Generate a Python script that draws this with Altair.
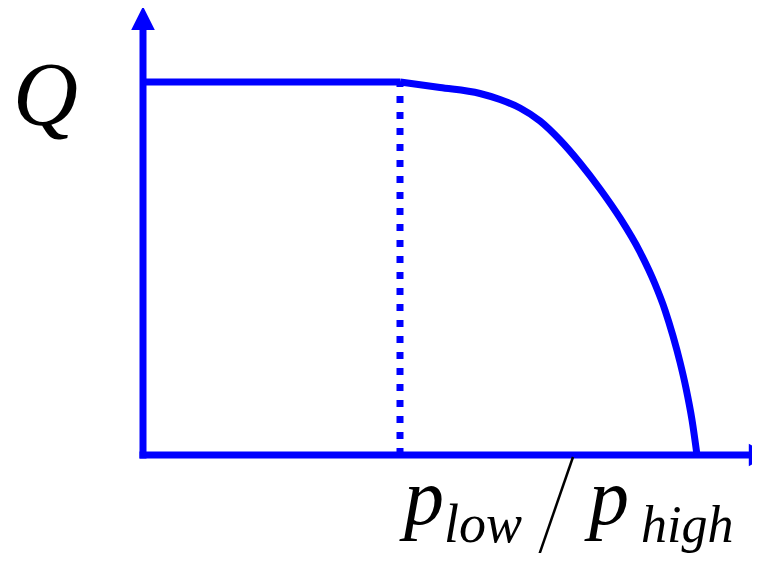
import altair as alt
import pandas as pd

# ---- data: flow Q vs pressure ratio p_low/p_high (normalized) ----
ratio = [0.0, 0.4639, 0.5361, 0.6083, 0.6444, 0.6805, 0.7166, 0.7527, 0.7888, 0.8249,
         0.8610, 0.8971, 0.9242, 0.9422, 0.9567, 0.9693, 0.9801, 0.9910, 1.0]
flow = [1.0, 1.0, 0.9853, 0.9692, 0.9531, 0.9303, 0.8954, 0.8445, 0.7828, 0.7131,
        0.6354, 0.5442, 0.4584, 0.3887, 0.3190, 0.2493, 0.1796, 0.0938, 0.0]
choked_ratio = [0.4639]
axis_x_end = [1.092]   # end of x axis line (arrow base)
axis_y_end = [1.139]   # end of y axis line (arrow base)

BLUE = "#0000FF"
W, H = 744, 545

# pixel geometry of the drawing frame (screen coords incl. 8px page margin)
PX0, PX1 = 143, 697
PY0, PY1 = 455, 82
sx = PX1 - PX0
sy = PY0 - PY1
xdom = [(8 - PX0) / sx, (8 + W - PX0) / sx]
ydom = [(PY0 - (8 + H)) / sy, (PY0 - 8) / sy]

X = lambda f: alt.X(f, type="quantitative", scale=alt.Scale(domain=xdom, nice=False, zero=False), axis=None)
Y = lambda f: alt.Y(f, type="quantitative", scale=alt.Scale(domain=ydom, nice=False, zero=False), axis=None)

curve_df = pd.DataFrame({"ratio": ratio, "flow": flow})
flat_df = curve_df[curve_df["ratio"] <= choked_ratio[0]]
drop_df = curve_df[curve_df["ratio"] >= choked_ratio[0]]

flat = alt.Chart(flat_df).mark_line(color=BLUE, strokeWidth=7).encode(
    x=X("ratio"), y=Y("flow"))
curve = alt.Chart(drop_df).mark_line(color=BLUE, strokeWidth=7, interpolate="monotone").encode(
    x=X("ratio"), y=Y("flow"))

choke_df = pd.DataFrame({"r": choked_ratio, "lo": [0.0], "hi": [1.0]})
dotted = alt.Chart(choke_df).mark_rule(color=BLUE, strokeWidth=7, strokeDash=[7, 9]).encode(
    x=X("r"), y=Y("lo"), y2="hi")

yaxis_df = pd.DataFrame({"x": [0.0], "lo": [0.0], "hi": axis_y_end})
yaxis = alt.Chart(yaxis_df).mark_rule(color=BLUE, strokeWidth=7, strokeCap="square").encode(
    x=X("x"), y=Y("lo"), y2="hi")

xaxis_df = pd.DataFrame({"y": [0.0], "lo": [0.0], "hi": axis_x_end})
xaxis = alt.Chart(xaxis_df).mark_rule(color=BLUE, strokeWidth=7, strokeCap="square").encode(
    y=Y("y"), x=X("lo"), x2="hi")

up_df = pd.DataFrame({"x": [0.0], "y": [axis_y_end[0] + 12 / sy]})
up_arrow = alt.Chart(up_df).mark_point(
    shape="M0,-1L1,1L-1,1Z", filled=True, color=BLUE, opacity=1, size=560, strokeWidth=0
).encode(x=X("x"), y=Y("y"))

right_df = pd.DataFrame({"x": [axis_x_end[0] + 12 / sx], "y": [0.0]})
right_arrow = alt.Chart(right_df).mark_point(
    shape="M1,0L-1,-1L-1,1Z", filled=True, color=BLUE, opacity=1, size=500, strokeWidth=0
).encode(x=X("x"), y=Y("y"))

def label(txt, px, py, size):
    return alt.Chart(pd.DataFrame({"t": [txt]})).mark_text(
        font="Liberation Serif", fontStyle="italic", fontSize=size, color="black",
        align="left", baseline="alphabetic"
    ).encode(text="t:N", x=alt.value(px - 8), y=alt.value(py - 8))

q_label = label("Q", 13, 125, 90)
p1 = label("p", 404, 524, 80)
low = label("low", 444, 542, 54)
p2 = label("p", 589, 524, 80)
high = label("high", 641, 542, 52)

slash = alt.Chart(pd.DataFrame({"a": [0]})).mark_rule(color="black", strokeWidth=2.5).encode(
    x=alt.value(573 - 8), y=alt.value(457 - 8), x2=alt.value(537 - 8), y2=alt.value(561 - 8))

chart = alt.layer(
    dotted, yaxis, xaxis, flat, curve, up_arrow, right_arrow, q_label, p1, low, p2, high, slash
).properties(
    width=W, height=H, autosize=alt.AutoSizeParams(type="none"), padding=0
).configure_view(stroke=None)

chart.save("out.html", embed_options={"renderer": "svg", "actions": False})
